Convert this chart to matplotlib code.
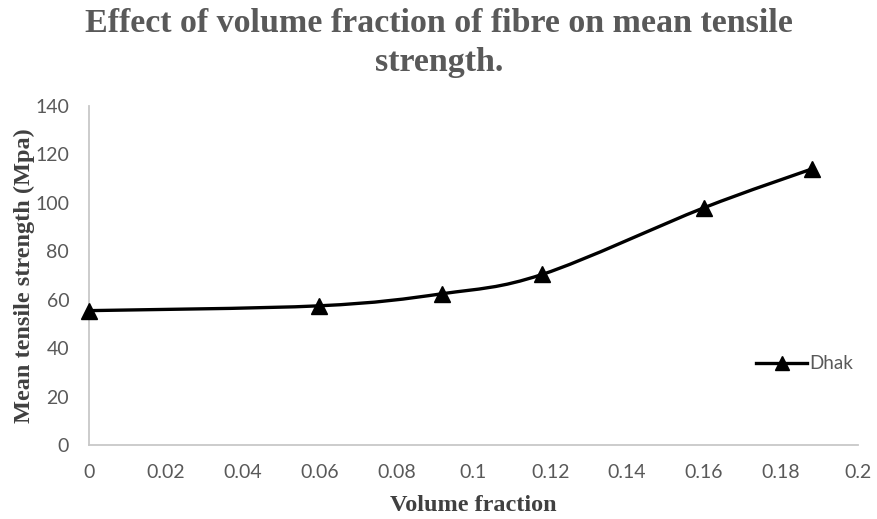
import numpy as np
import matplotlib.pyplot as plt
from matplotlib.path import Path
from matplotlib.patches import PathPatch
from matplotlib.lines import Line2D

# Volume fraction of fibre and measured mean tensile strength
volume_fraction = [0.0, 0.06, 0.092, 0.118, 0.16, 0.188]
tensile_strength = [55.5, 57.5, 62.5, 70.5, 98.0, 114.0]
series_name = "Dhak"

x_ticks = [0, 0.02, 0.04, 0.06, 0.08, 0.1, 0.12, 0.14, 0.16, 0.18, 0.2]
x_tick_labels = ["0", "0.02", "0.04", "0.06", "0.08", "0.1", "0.12", "0.14", "0.16", "0.18", "0.2"]
y_ticks = [0, 20, 40, 60, 80, 100, 120, 140]

grey_text = "#595959"
axis_grey = "#c8c8c8"


def smooth_path(xs, ys, tension=1 / 6):
    # Bezier path through the points, spreadsheet-style smoothing
    pts = np.column_stack([xs, ys])
    verts = [pts[0]]
    codes = [Path.MOVETO]
    n = len(pts)
    for i in range(n - 1):
        p0 = pts[i - 1] if i > 0 else pts[i]
        p1 = pts[i]
        p2 = pts[i + 1]
        p3 = pts[i + 2] if i + 2 < n else pts[i + 1]
        c1 = p1 + (p2 - p0) * tension
        c2 = p2 - (p3 - p1) * tension
        verts += [c1, c2, p2]
        codes += [Path.CURVE4] * 3
    return Path(verts, codes)


fig = plt.figure(figsize=(8.78, 5.19), dpi=100)
ax = fig.add_axes([0.101, 0.1426, 0.876, 0.653])

path = smooth_path(volume_fraction, tensile_strength)
ax.add_patch(PathPatch(path, facecolor="none", edgecolor="black", lw=2.4,
                       transform=ax.transData, zorder=3))
ax.plot(volume_fraction, tensile_strength, linestyle="none", marker="^",
        markersize=11.5, color="black", zorder=4, clip_on=False)

ax.set_xlim(0, 0.2)
ax.set_ylim(0, 140)
ax.set_xticks(x_ticks)
ax.set_xticklabels(x_tick_labels)
ax.set_yticks(y_ticks)
ax.tick_params(length=0, labelsize=14, labelcolor=grey_text)
ax.tick_params(axis="x", pad=14)
ax.tick_params(axis="y", pad=14)
for lab in ax.get_xticklabels() + ax.get_yticklabels():
    lab.set_family("Lato")

for side in ["top", "right"]:
    ax.spines[side].set_visible(False)
for side in ["left", "bottom"]:
    ax.spines[side].set_color(axis_grey)
    ax.spines[side].set_linewidth(1.3)

ax.set_xlabel("Volume fraction", family="Liberation Serif", fontweight="bold",
              fontsize=17.5, color="#404040", labelpad=10)
ax.set_ylabel("Mean tensile strength (Mpa)", family="Liberation Serif", fontweight="bold",
              fontsize=17.5, color="#404040", labelpad=0)

fig.text(0.5, 0.985, "Effect of volume fraction of fibre on mean tensile\nstrength.",
         ha="center", va="top", family="Liberation Serif", fontweight="bold",
         fontsize=24.5, color=grey_text, linespacing=1.35)

handle = Line2D([], [], color="black", lw=2.4, marker="^", markersize=10)
ax.legend([handle], [series_name], loc="center left", bbox_to_anchor=(0.868, 0.239),
          frameon=False, handlelength=2.7, handletextpad=0.15, borderpad=0, borderaxespad=0,
          prop={"family": "Lato", "size": 13.5}, labelcolor=grey_text)

fig.savefig("out.png", dpi=100)
